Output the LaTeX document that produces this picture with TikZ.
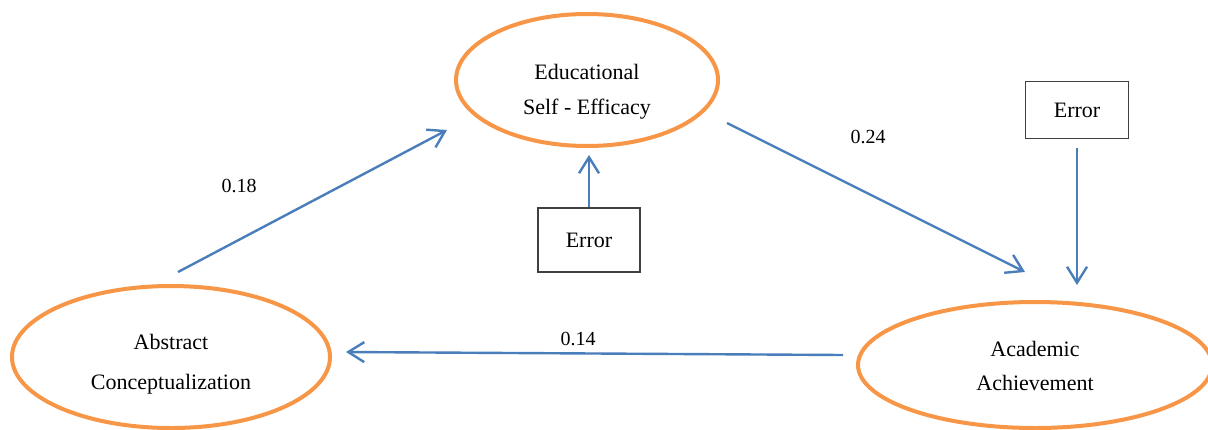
\documentclass[tikz,border=0pt]{standalone}
\usepackage{fontspec}
\setmainfont{Liberation Serif}
\usetikzlibrary{shapes.geometric,arrows.meta}
\definecolor{effectblue}{HTML}{4A7EBB}
\definecolor{latentorange}{HTML}{F79646}
\tikzset{
  latent/.style={ellipse,draw=latentorange,line width=2pt,inner sep=0pt},
  latenttext/.style={align=center,inner sep=0pt,font=\fontsize{11}{17.5}\selectfont},
  errbox/.style={rectangle,draw=black!75,line width=0.7pt,font=\fontsize{11}{13}\selectfont},
  effect/.style={draw=effectblue,line width=1.2pt,-{Straight Barb[length=8pt,width=10pt]}},
  coef/.style={font=\fontsize{10}{12}\selectfont}
}
\begin{document}
\begin{tikzpicture}[x=0.5pt,y=-0.5pt]
\useasboundingbox (0,0) rectangle (1208,429);
\node[latent,minimum width=131pt,minimum height=66pt] (ESE) at (587,80) {};
\node[latent,minimum width=159pt,minimum height=71pt] (AC) at (171,357) {};
\node[latent,minimum width=177pt,minimum height=63pt] (AA) at (1035,365) {};
\node[latenttext] (ESEtext) at (587,92) {Educational\\Self - Efficacy};
\node[latenttext,font=\fontsize{11}{20}\selectfont] (ACtext) at (171,364) {Abstract\\Conceptualization};
\node[latenttext,font=\fontsize{11}{17}\selectfont] (AAtext) at (1035,366) {Academic\\Achievement};
\node[errbox,minimum width=51pt,minimum height=32pt] (E1) at (589,240) {Error};
\node[errbox,minimum width=51.5pt,minimum height=28.5pt] (E2) at (1077,110) {Error};
\coordinate (ACout) at (178,272);
\coordinate (ESEin) at (447,130);
\coordinate (ESEout) at (727,123);
\coordinate (AAin) at (1025,272);
\coordinate (AAout) at (843,355);
\coordinate (ACin) at (346,352);
\coordinate (E1tip) at (589,155);
\coordinate (E2tip) at (1077,285);
\draw[effect] (ACout) to (ESEin);
\draw[effect] (ESEout) to (AAin);
\draw[effect] (AAout) to (ACin);
\draw[effect] (E1) to (E1tip);
\draw[effect,shorten <=4.5pt] (E2) to (E2tip);
\node[coef] (b18) at (239,186) {0.18};
\node[coef] (b24) at (868,137) {0.24};
\node[coef] (b14) at (578,339) {0.14};
\end{tikzpicture}
\end{document}
